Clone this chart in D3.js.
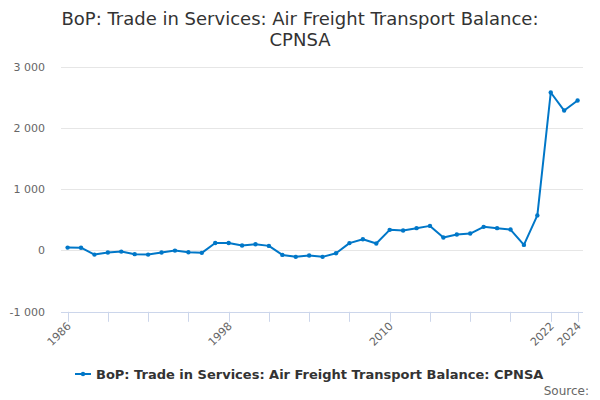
<!DOCTYPE html>
<html><head><meta charset="utf-8">
<script src="https://cdn.jsdelivr.net/npm/d3@7"></script>
<style>body{margin:0;background:#fff}svg{display:block;font-family:"DejaVu Sans",sans-serif}</style>
</head><body><div id="chart"></div>
<script>
const years = d3.range(1986, 2025);
const values = [47,45,-67,-34,-18,-60,-67,-34,-2,-28,-39,122,122,80,102,75,-72,-104,-83,-104,-45,120,184,113,336,325,364,401,211,260,276,385,364,341,91,572,2576,2282,2445];
const yTicks = [-1000,0,1000,2000,3000];
const xTicks = d3.range(1986, 2023, 3).concat([2024]);
const xLabels = [1986,1998,2010,2022,2024];
const title = ["BoP: Trade in Services: Air Freight Transport Balance:", "CPNSA"];
const seriesName = "BoP: Trade in Services: Air Freight Transport Balance: CPNSA";

(function(){
const W=600,H=400;
const svg=d3.select("#chart").append("svg").attr("width",W).attr("height",H);
const pl=61,pr=583,pt=66.5,pb=311.8;
const x=d3.scaleLinear().domain([1986,2024]).range([67.6,577.6]);
const y=d3.scaleLinear().domain([-1000,3000]).range([pb,pt]);
const color="#0077c8";

svg.append("g").selectAll("text").data(title).join("text")
 .attr("x",W/2).attr("y",(d,i)=>25+i*21).attr("text-anchor","middle")
 .attr("font-size",18).attr("fill","#333").text(d=>d);

svg.append("g").selectAll("line").data(yTicks.filter(d=>d>-1000)).join("line")
 .attr("x1",pl).attr("x2",pr).attr("y1",d=>Math.round(y(d))+0.5).attr("y2",d=>Math.round(y(d))+0.5)
 .attr("stroke","#e6e6e6").attr("stroke-width",1);
svg.append("g").selectAll("text").data(yTicks).join("text")
 .attr("x",45).attr("y",d=>y(d)+4).attr("text-anchor","end")
 .attr("font-size",11).attr("fill","#666").text(d=>d3.format(",")(d).replace(/,/g," ").replace("−","-"));

svg.append("line").attr("x1",pl).attr("x2",pr).attr("y1",Math.round(pb)+0.5).attr("y2",Math.round(pb)+0.5).attr("stroke","#ccd6eb");
svg.append("g").selectAll("line").data(xTicks).join("line")
 .attr("x1",d=>Math.round(x(d))+0.5).attr("x2",d=>Math.round(x(d))+0.5).attr("y1",pb).attr("y2",pb+10).attr("stroke","#ccd6eb");
svg.append("g").selectAll("text").data(xLabels).join("text")
 .attr("transform",d=>`translate(${x(d)+4},${pb+15}) rotate(-45)`)
 .attr("text-anchor","end").attr("font-size",11).attr("fill","#666").text(d=>d);

const line=d3.line().x((d,i)=>x(years[i])).y(d=>y(d));
svg.append("path").datum(values).attr("d",line).attr("fill","none").attr("stroke",color).attr("stroke-width",2).attr("stroke-linejoin","round");
svg.append("g").selectAll("circle").data(values).join("circle")
 .attr("cx",(d,i)=>x(years[i])).attr("cy",d=>y(d)).attr("r",2.2).attr("fill",color);

const lg=svg.append("g");
lg.append("line").attr("x1",75).attr("x2",91).attr("y1",374).attr("y2",374).attr("stroke",color).attr("stroke-width",2);
lg.append("circle").attr("cx",83).attr("cy",374).attr("r",2.2).attr("fill",color);
lg.append("text").attr("x",96).attr("y",378.5).attr("font-size",13).attr("font-weight","bold").attr("fill","#333").text(seriesName);
svg.append("text").attr("x",589).attr("y",395).attr("text-anchor","end").attr("font-size",12).attr("fill","#666").text("Source:");
})();
</script></body></html>
